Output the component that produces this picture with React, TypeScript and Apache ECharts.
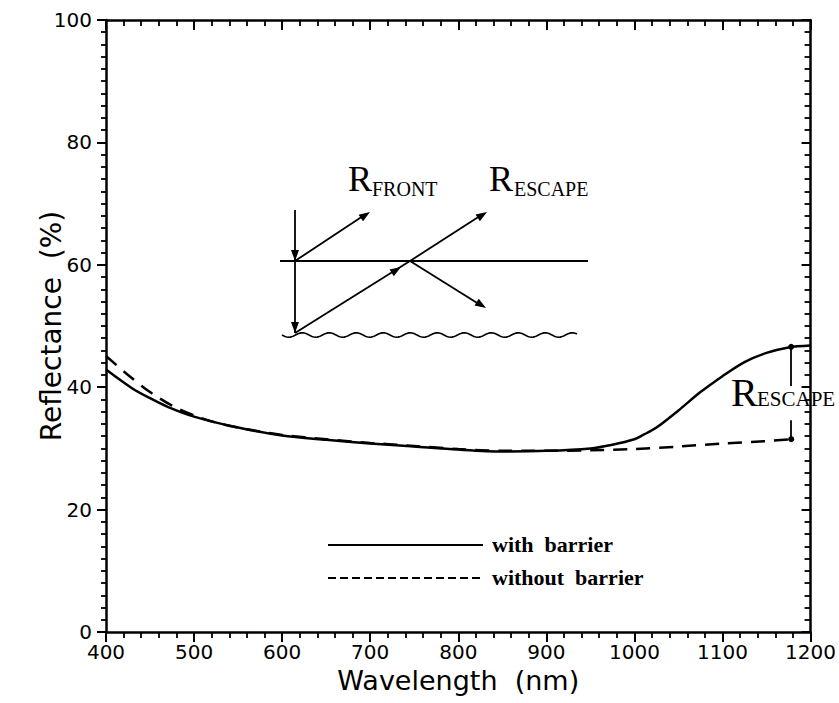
import React, { useEffect, useRef } from "react";
import * as echarts from "echarts";

// ---- data ----
const xTicks = [400, 500, 600, 700, 800, 900, 1000, 1100, 1200];
const yTicks = [0, 20, 40, 60, 80, 100];

const wlWith = [400, 430, 450, 470, 500, 550, 600, 650, 700, 750, 800, 850, 900, 950, 975, 1000, 1010, 1025, 1050, 1075, 1100, 1125, 1150, 1175, 1200];
const reflWith = [42.9, 39.8, 38.2, 36.8, 35.2, 33.4, 32.1, 31.4, 30.8, 30.3, 29.8, 29.5, 29.6, 30.0, 30.6, 31.5, 32.2, 33.4, 36.2, 39.2, 41.8, 44.1, 45.6, 46.5, 46.8];

const wlWithout = [400, 425, 450, 475, 500, 525, 550, 600, 650, 700, 750, 800, 850, 900, 950, 1000, 1050, 1100, 1150, 1178];
const reflWithout = [45.1, 42.0, 39.2, 37.0, 35.4, 34.2, 33.4, 32.2, 31.5, 30.9, 30.4, 29.9, 29.6, 29.6, 29.7, 29.9, 30.3, 30.8, 31.2, 31.5];

// R_escape bracket (wavelength, top, gap top, gap bottom, bottom)
const escapeX = 1178;
const escapeTop = 46.6;
const escapeGapTop = 40.2;
const escapeGapBottom = 34.6;
const escapeBottom = 31.5;

const seriesNames = ["with barrier", "without barrier"];

const AXIS_FONT = "'DejaVu Sans', sans-serif";
const SERIF = "'Liberation Serif', 'Times New Roman', serif";

function arrowHead(x1: number, y1: number, x2: number, y2: number, len = 11, w = 4) {
  const a = Math.atan2(y2 - y1, x2 - x1);
  const bx = x2 - len * Math.cos(a);
  const by = y2 - len * Math.sin(a);
  const px = -Math.sin(a) * w;
  const py = Math.cos(a) * w;
  return {
    type: "polygon",
    shape: { points: [[x2, y2], [bx + px, by + py], [bx - px, by - py]] },
    style: { fill: "#000" },
  };
}

function seg(x1: number, y1: number, x2: number, y2: number, w = 1.8) {
  return { type: "line", shape: { x1, y1, x2, y2 }, style: { stroke: "#000", lineWidth: w } };
}

function wavy(x0: number, x1: number, y: number, amp: number, period: number) {
  const pts: number[][] = [];
  for (let x = x0; x <= x1; x += 1) {
    pts.push([x, y + amp * Math.sin(((x - x0) / period) * Math.PI * 2)]);
  }
  return { type: "polyline", shape: { points: pts }, style: { stroke: "#000", lineWidth: 1.6, fill: null } };
}

function buildGraphic() {
  const g: any[] = [];
  // inset schematic
  g.push(seg(280, 261, 588, 261, 2));
  g.push(wavy(282, 577, 335, 2.2, 27));
  g.push(seg(295, 210, 295, 333, 1.8));
  g.push(arrowHead(295, 240, 295, 261));
  g.push(arrowHead(295, 310, 295, 333));
  // front reflection
  g.push(seg(295, 261, 366, 214, 1.8));
  g.push(arrowHead(295, 261, 370, 212));
  // refracted up from bottom to crossing
  g.push(seg(295, 333, 410, 261, 1.8));
  g.push(arrowHead(295, 333, 401, 267));
  // escape ray
  g.push(seg(410, 261, 483, 214, 1.8));
  g.push(arrowHead(410, 261, 487, 212));
  // internal reflection down
  g.push(seg(410, 261, 482, 306, 1.8));
  g.push(arrowHead(410, 261, 486, 308));

  // labels R_FRONT / R_ESCAPE
  const txt = (text: string, x: number, y: number, size: number) => ({
    type: "text",
    x,
    y,
    style: { text, fontFamily: SERIF, fontSize: size, fill: "#000", align: "left", verticalAlign: "middle" },
  });
  g.push(txt("R", 348, 179, 36));
  g.push(txt("FRONT", 372, 189, 20));
  g.push(txt("R", 489, 179, 36));
  g.push(txt("ESCAPE", 514, 189, 20));
  g.push(txt("R", 731, 392, 40));
  g.push(txt("ESCAPE", 757, 399, 21));

  // legend
  g.push(seg(328, 545, 483, 545, 2.2));
  g.push({
    type: "line",
    shape: { x1: 328, y1: 578, x2: 483, y2: 578 },
    style: { stroke: "#000", lineWidth: 2.2, lineDash: [8, 4] },
  });
  const legendText = (text: string, y: number) => ({
    type: "text",
    x: 492,
    y,
    style: {
      text: text.replace(" ", "  "),
      fontFamily: SERIF,
      fontSize: 22,
      fontWeight: "bold",
      fill: "#000",
      verticalAlign: "middle",
    },
  });
  g.push(legendText(seriesNames[0], 544));
  g.push(legendText(seriesNames[1], 577));
  return g;
}

const black = "#000";

const baseAxis = {
  type: "value" as const,
  axisLine: { show: true, onZero: false, lineStyle: { color: black, width: 2.5 } },
  splitLine: { show: false },
};

const option: any = {
  animation: false,
  backgroundColor: "#fff",
  grid: { left: 106, right: 28, top: 20, bottom: 71, containLabel: false },
  xAxis: [
    {
      ...baseAxis,
      position: "bottom",
      min: xTicks[0],
      max: xTicks[xTicks.length - 1],
      interval: 100,
      axisTick: { show: true, length: 10, lineStyle: { color: black, width: 2 } },
      minorTick: { show: true, splitNumber: 5, length: 6, lineStyle: { color: black, width: 1.8 } },
      axisLabel: {
        fontFamily: AXIS_FONT,
        fontSize: 20,
        color: black,
        margin: 10,
        formatter: (v: number) => String(v),
      },
      name: "Wavelength  (nm)",
      nameLocation: "middle",
      nameGap: 34,
      nameTextStyle: { fontFamily: AXIS_FONT, fontSize: 27, color: black },
    },
    {
      ...baseAxis,
      position: "top",
      min: xTicks[0],
      max: xTicks[xTicks.length - 1],
      interval: 100,
      axisTick: { show: true, inside: true, length: 10, lineStyle: { color: black, width: 2 } },
      minorTick: { show: true, splitNumber: 5, length: 6, lineStyle: { color: black, width: 1.8 } },
      axisLabel: { show: false },
    },
  ],
  yAxis: [
    {
      ...baseAxis,
      position: "left",
      min: yTicks[0],
      max: yTicks[yTicks.length - 1],
      interval: 20,
      axisTick: { show: true, length: 9, lineStyle: { color: black, width: 2 } },
      minorTick: { show: true, splitNumber: 10, length: 5, lineStyle: { color: black, width: 1.8 } },
      axisLabel: { fontFamily: AXIS_FONT, fontSize: 20, color: black, margin: 14 },
      name: "Reflectance  (%)",
      nameLocation: "middle",
      nameGap: 41,
      nameMoveOverlap: false,
      nameTextStyle: { fontFamily: AXIS_FONT, fontSize: 28, color: black },
    },
    {
      ...baseAxis,
      position: "right",
      min: yTicks[0],
      max: yTicks[yTicks.length - 1],
      interval: 20,
      axisTick: { show: true, inside: true, length: 9, lineStyle: { color: black, width: 2 } },
      minorTick: { show: true, splitNumber: 10, length: 6, lineStyle: { color: black, width: 1.8 } },
      axisLabel: { show: false },
    },
  ],
  series: [
    {
      name: seriesNames[0],
      type: "line",
      xAxisIndex: 0,
      yAxisIndex: 0,
      data: wlWith.map((x, i) => [x, reflWith[i]]),
      showSymbol: false,
      smooth: 0.3,
      lineStyle: { color: black, width: 2.5 },
      markLine: {
        silent: true,
        animation: false,
        symbolSize: 6,
        label: { show: false },
        lineStyle: { color: black, width: 1.8, type: "solid" },
        data: [
          [
            { coord: [escapeX, escapeTop], symbol: "circle" },
            { coord: [escapeX, escapeGapTop], symbol: "none" },
          ],
          [
            { coord: [escapeX, escapeGapBottom], symbol: "none" },
            { coord: [escapeX, escapeBottom], symbol: "circle" },
          ],
        ],
      },
    },
    {
      name: seriesNames[1],
      type: "line",
      xAxisIndex: 0,
      yAxisIndex: 0,
      data: wlWithout.map((x, i) => [x, reflWithout[i]]),
      showSymbol: false,
      smooth: 0.3,
      lineStyle: { color: black, width: 2.5, type: [14, 9] },
    },
  ],
  graphic: buildGraphic(),
};

export default function App() {
  const ref = useRef<HTMLDivElement>(null);
  useEffect(() => {
    const chart = echarts.init(ref.current!, null, { renderer: "svg" });
    chart.setOption(option);
    return () => chart.dispose();
  }, []);
  return (
    <div
      ref={ref}
      style={{ position: "fixed", left: 0, top: 0, width: 839, height: 703, background: "#fff" }}
    />
  );
}
